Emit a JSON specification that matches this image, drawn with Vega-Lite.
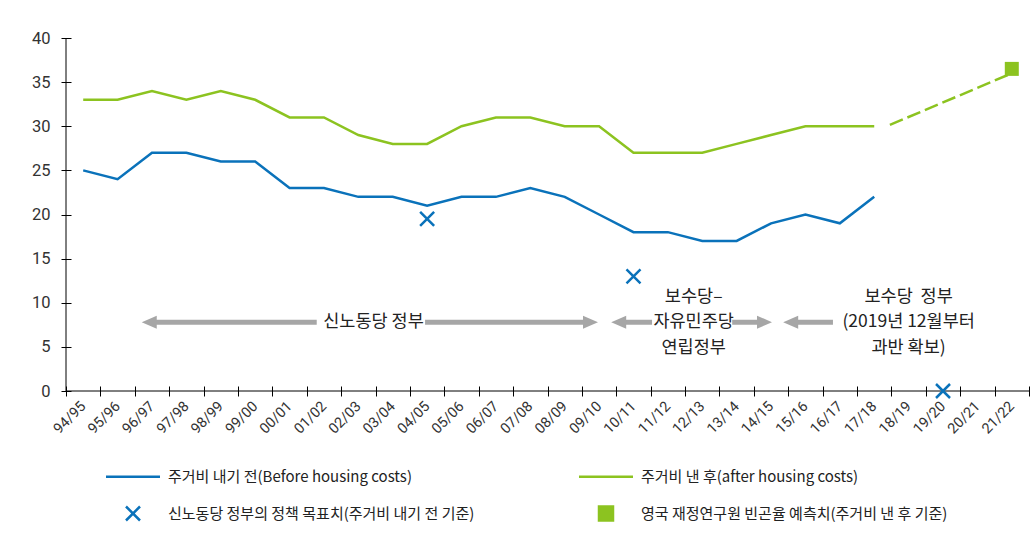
{
  "$schema": "https://vega.github.io/schema/vega-lite/v6.json",
  "width": 963,
  "height": 353,
  "autosize": {"type": "none"},
  "padding": {"left": 66, "top": 38, "right": 7, "bottom": 144},
  "background": "white",
  "config": {"view": {"stroke": null}, "font": "Noto Sans CJK KR"},
  "datasets": {
    "series": [
      {"cat": "94/95", "value": 25, "series": "주거비 내기 전(Before housing costs)"},
      {"cat": "95/96", "value": 24, "series": "주거비 내기 전(Before housing costs)"},
      {"cat": "96/97", "value": 27, "series": "주거비 내기 전(Before housing costs)"},
      {"cat": "97/98", "value": 27, "series": "주거비 내기 전(Before housing costs)"},
      {"cat": "98/99", "value": 26, "series": "주거비 내기 전(Before housing costs)"},
      {"cat": "99/00", "value": 26, "series": "주거비 내기 전(Before housing costs)"},
      {"cat": "00/01", "value": 23, "series": "주거비 내기 전(Before housing costs)"},
      {"cat": "01/02", "value": 23, "series": "주거비 내기 전(Before housing costs)"},
      {"cat": "02/03", "value": 22, "series": "주거비 내기 전(Before housing costs)"},
      {"cat": "03/04", "value": 22, "series": "주거비 내기 전(Before housing costs)"},
      {"cat": "04/05", "value": 21, "series": "주거비 내기 전(Before housing costs)"},
      {"cat": "05/06", "value": 22, "series": "주거비 내기 전(Before housing costs)"},
      {"cat": "06/07", "value": 22, "series": "주거비 내기 전(Before housing costs)"},
      {"cat": "07/08", "value": 23, "series": "주거비 내기 전(Before housing costs)"},
      {"cat": "08/09", "value": 22, "series": "주거비 내기 전(Before housing costs)"},
      {"cat": "09/10", "value": 20, "series": "주거비 내기 전(Before housing costs)"},
      {"cat": "10/11", "value": 18, "series": "주거비 내기 전(Before housing costs)"},
      {"cat": "11/12", "value": 18, "series": "주거비 내기 전(Before housing costs)"},
      {"cat": "12/13", "value": 17, "series": "주거비 내기 전(Before housing costs)"},
      {"cat": "13/14", "value": 17, "series": "주거비 내기 전(Before housing costs)"},
      {"cat": "14/15", "value": 19, "series": "주거비 내기 전(Before housing costs)"},
      {"cat": "15/16", "value": 20, "series": "주거비 내기 전(Before housing costs)"},
      {"cat": "16/17", "value": 19, "series": "주거비 내기 전(Before housing costs)"},
      {"cat": "17/18", "value": 22, "series": "주거비 내기 전(Before housing costs)"},
      {"cat": "94/95", "value": 33, "series": "주거비 낸 후(after housing costs)"},
      {"cat": "95/96", "value": 33, "series": "주거비 낸 후(after housing costs)"},
      {"cat": "96/97", "value": 34, "series": "주거비 낸 후(after housing costs)"},
      {"cat": "97/98", "value": 33, "series": "주거비 낸 후(after housing costs)"},
      {"cat": "98/99", "value": 34, "series": "주거비 낸 후(after housing costs)"},
      {"cat": "99/00", "value": 33, "series": "주거비 낸 후(after housing costs)"},
      {"cat": "00/01", "value": 31, "series": "주거비 낸 후(after housing costs)"},
      {"cat": "01/02", "value": 31, "series": "주거비 낸 후(after housing costs)"},
      {"cat": "02/03", "value": 29, "series": "주거비 낸 후(after housing costs)"},
      {"cat": "03/04", "value": 28, "series": "주거비 낸 후(after housing costs)"},
      {"cat": "04/05", "value": 28, "series": "주거비 낸 후(after housing costs)"},
      {"cat": "05/06", "value": 30, "series": "주거비 낸 후(after housing costs)"},
      {"cat": "06/07", "value": 31, "series": "주거비 낸 후(after housing costs)"},
      {"cat": "07/08", "value": 31, "series": "주거비 낸 후(after housing costs)"},
      {"cat": "08/09", "value": 30, "series": "주거비 낸 후(after housing costs)"},
      {"cat": "09/10", "value": 30, "series": "주거비 낸 후(after housing costs)"},
      {"cat": "10/11", "value": 27, "series": "주거비 낸 후(after housing costs)"},
      {"cat": "11/12", "value": 27, "series": "주거비 낸 후(after housing costs)"},
      {"cat": "12/13", "value": 27, "series": "주거비 낸 후(after housing costs)"},
      {"cat": "13/14", "value": 28, "series": "주거비 낸 후(after housing costs)"},
      {"cat": "14/15", "value": 29, "series": "주거비 낸 후(after housing costs)"},
      {"cat": "15/16", "value": 30, "series": "주거비 낸 후(after housing costs)"},
      {"cat": "16/17", "value": 30, "series": "주거비 낸 후(after housing costs)"},
      {"cat": "17/18", "value": 30, "series": "주거비 낸 후(after housing costs)"}
    ],
    "proj": [
      {"cat": "17/18", "value": 29.4},
      {"cat": "21/22", "value": 36.0}
    ],
    "targets": [
      {"cat": "04/05", "value": 19.5, "series": "신노동당 정부의 정책 목표치(주거비 내기 전 기준)"},
      {"cat": "10/11", "value": 13, "series": "신노동당 정부의 정책 목표치(주거비 내기 전 기준)"},
      {"cat": "19/20", "value": 0, "series": "신노동당 정부의 정책 목표치(주거비 내기 전 기준)"}
    ],
    "forecast": [
      {"cat": "21/22", "value": 36.5, "series": "영국 재정연구원 빈곤율 예측치(주거비 낸 후 기준)"}
    ],
    "shafts": [
      {"u": 2.42, "u2": 7.29, "value": 7.8},
      {"u": 10.44, "u2": 15.25, "value": 7.8},
      {"u": 16.07, "u2": 17.04, "value": 7.8},
      {"u": 19.37, "u2": 20.31, "value": 7.8},
      {"u": 21.07, "u2": 22.3, "value": 7.8}
    ],
    "heads": [
      {"u": 2.42, "value": 7.8, "dir": "L"},
      {"u": 15.25, "value": 7.8, "dir": "R"},
      {"u": 16.07, "value": 7.8, "dir": "L"},
      {"u": 20.31, "value": 7.8, "dir": "R"},
      {"u": 21.07, "value": 7.8, "dir": "L"}
    ],
    "labels": [
      {"u": 8.94, "value": 7.8, "t": "신노동당 정부"},
      {"u": 18.25, "value": 10.6, "t": "보수당–"},
      {"u": 18.25, "value": 7.8, "t": "자유민주당"},
      {"u": 18.25, "value": 4.85, "t": "연립정부"},
      {"u": 24.5, "value": 10.6, "t": "보수당\u00a0\u00a0정부"},
      {"u": 24.5, "value": 7.8, "t": "(2019년 12월부터"},
      {"u": 24.5, "value": 4.85, "t": "과반 확보)"}
    ]
  },
  "layer": [
    {
      "layer": [
        {
          "data": {"values": [{}]},
          "mark": {"type": "rule", "color": "#000000", "strokeWidth": 1},
          "encoding": {"y": {"datum": 0, "type": "quantitative"}}
        },
        {
          "data": {"name": "series"},
          "mark": {"type": "line", "strokeWidth": 2.5},
          "encoding": {
            "x": {
              "field": "cat", "type": "ordinal",
              "scale": {"type": "band", "paddingInner": 0, "paddingOuter": 0,
                "domain": ["94/95","95/96","96/97","97/98","98/99","99/00","00/01","01/02","02/03","03/04","04/05","05/06","06/07","07/08","08/09","09/10","10/11","11/12","12/13","13/14","14/15","15/16","16/17","17/18","18/19","19/20","20/21","21/22"]},
              "axis": {"title": null, "tickBand": "extent", "domain": false, "offset": -5, "tickSize": 10, "tickColor": "#000000", "tickWidth": 1, "labelAngle": -45, "labelAlign": "right", "labelBaseline": "middle", "labelPadding": 8, "labelFontSize": 14.5, "labelColor": "#333333", "labelFont": "Roboto", "grid": false, "labelOverlap": false}
            },
            "y": {
              "field": "value", "type": "quantitative",
              "scale": {"domain": [0, 40], "nice": false},
              "axis": {"title": null, "values": [0,5,10,15,20,25,30,35,40], "domain": false, "offset": -5, "tickSize": 10, "tickColor": "#000000", "labelPadding": 11, "labelFontSize": 16.5, "labelColor": "#333333", "labelFont": "Roboto", "grid": false}
            },
            "color": {
              "field": "series", "type": "nominal",
              "scale": {
                "domain": ["주거비 내기 전(Before housing costs)", "신노동당 정부의 정책 목표치(주거비 내기 전 기준)", "주거비 낸 후(after housing costs)", "영국 재정연구원 빈곤율 예측치(주거비 낸 후 기준)"],
                "range": ["#0a72ba", "#0a72ba", "#8cc320", "#8cc320"]
              },
              "legend": {
                "title": null, "orient": "none", "legendX": 58.5, "legendY": 430,
                "columns": 2, "columnPadding": 99, "rowPadding": 16,
                "symbolSize": 196, "symbolStrokeWidth": 2.5,
                "labelFont": "Noto Sans CJK KR", "labelFontSize": 15, "labelColor": "#222222",
                "labelOffset": 26.5, "labelLimit": 500, "padding": 0,
                "encode": {
                  "symbols": {
                    "update": {
                      "shape": {"signal": "datum.index == 1 ? 'M-1,-1L1,1M-1,1L1,-1' : (datum.index == 3 ? 'square' : 'M-3.857,0L3.857,0')"},
                      "fill": {"signal": "datum.index == 3 ? '#8cc320' : 'transparent'"},
                      "stroke": {"signal": "datum.index == 3 ? 'transparent' : (datum.index == 2 ? '#8cc320' : '#0a72ba')"},
                      "opacity": {"value": 1}
                    }
                  }
                }
              }
            }
          }
        },
        {
          "data": {"name": "proj"},
          "mark": {"type": "line", "strokeWidth": 2.5, "color": "#8cc320", "strokeDash": [0,17,14,5,14,5,14,5,14,5,14,5,14,5,14,5]},
          "encoding": {
            "x": {"field": "cat", "type": "ordinal"},
            "y": {"field": "value", "type": "quantitative"}
          }
        },
        {
          "data": {"name": "targets"},
          "mark": {"type": "point", "shape": "M-1,-1L1,1M-1,1L1,-1", "filled": false, "size": 196, "strokeWidth": 2.5, "opacity": 1},
          "encoding": {
            "x": {"field": "cat", "type": "ordinal"},
            "y": {"field": "value", "type": "quantitative"},
            "color": {"field": "series", "type": "nominal"}
          }
        },
        {
          "data": {"name": "forecast"},
          "mark": {"type": "square", "size": 196, "opacity": 1},
          "encoding": {
            "x": {"field": "cat", "type": "ordinal"},
            "y": {"field": "value", "type": "quantitative"},
            "color": {"field": "series", "type": "nominal"}
          }
        }
      ]
    },
    {
      "layer": [
        {
          "data": {"values": [{}]},
          "mark": {"type": "rule", "color": "#000000", "strokeWidth": 1},
          "encoding": {"x": {"datum": 0, "type": "quantitative", "scale": {"domain": [0, 28], "nice": false, "zero": false}, "axis": null}}
        },
        {
          "data": {"name": "shafts"},
          "mark": {"type": "rule", "color": "#a6a6a6", "strokeWidth": 5, "strokeCap": "butt"},
          "encoding": {
            "x": {"field": "u", "type": "quantitative"},
            "x2": {"field": "u2"},
            "y": {"field": "value", "type": "quantitative"}
          }
        },
        {
          "data": {"name": "heads"},
          "mark": {"type": "point", "filled": true, "size": 225, "color": "#a6a6a6", "opacity": 1},
          "encoding": {
            "x": {"field": "u", "type": "quantitative"},
            "y": {"field": "value", "type": "quantitative"},
            "shape": {"field": "dir", "type": "nominal", "scale": {"domain": ["L", "R"], "range": ["M-1,0L1,-0.87L1,0.87Z", "M1,0L-1,-0.87L-1,0.87Z"]}, "legend": null}
          }
        },
        {
          "data": {"name": "labels"},
          "mark": {"type": "text", "fontSize": 17.5, "color": "#222222", "font": "Noto Sans CJK KR", "align": "center", "baseline": "middle"},
          "encoding": {
            "x": {"field": "u", "type": "quantitative"},
            "y": {"field": "value", "type": "quantitative"},
            "text": {"field": "t"}
          }
        }
      ]
    }
  ],
  "resolve": {"scale": {"x": "independent"}}
}
